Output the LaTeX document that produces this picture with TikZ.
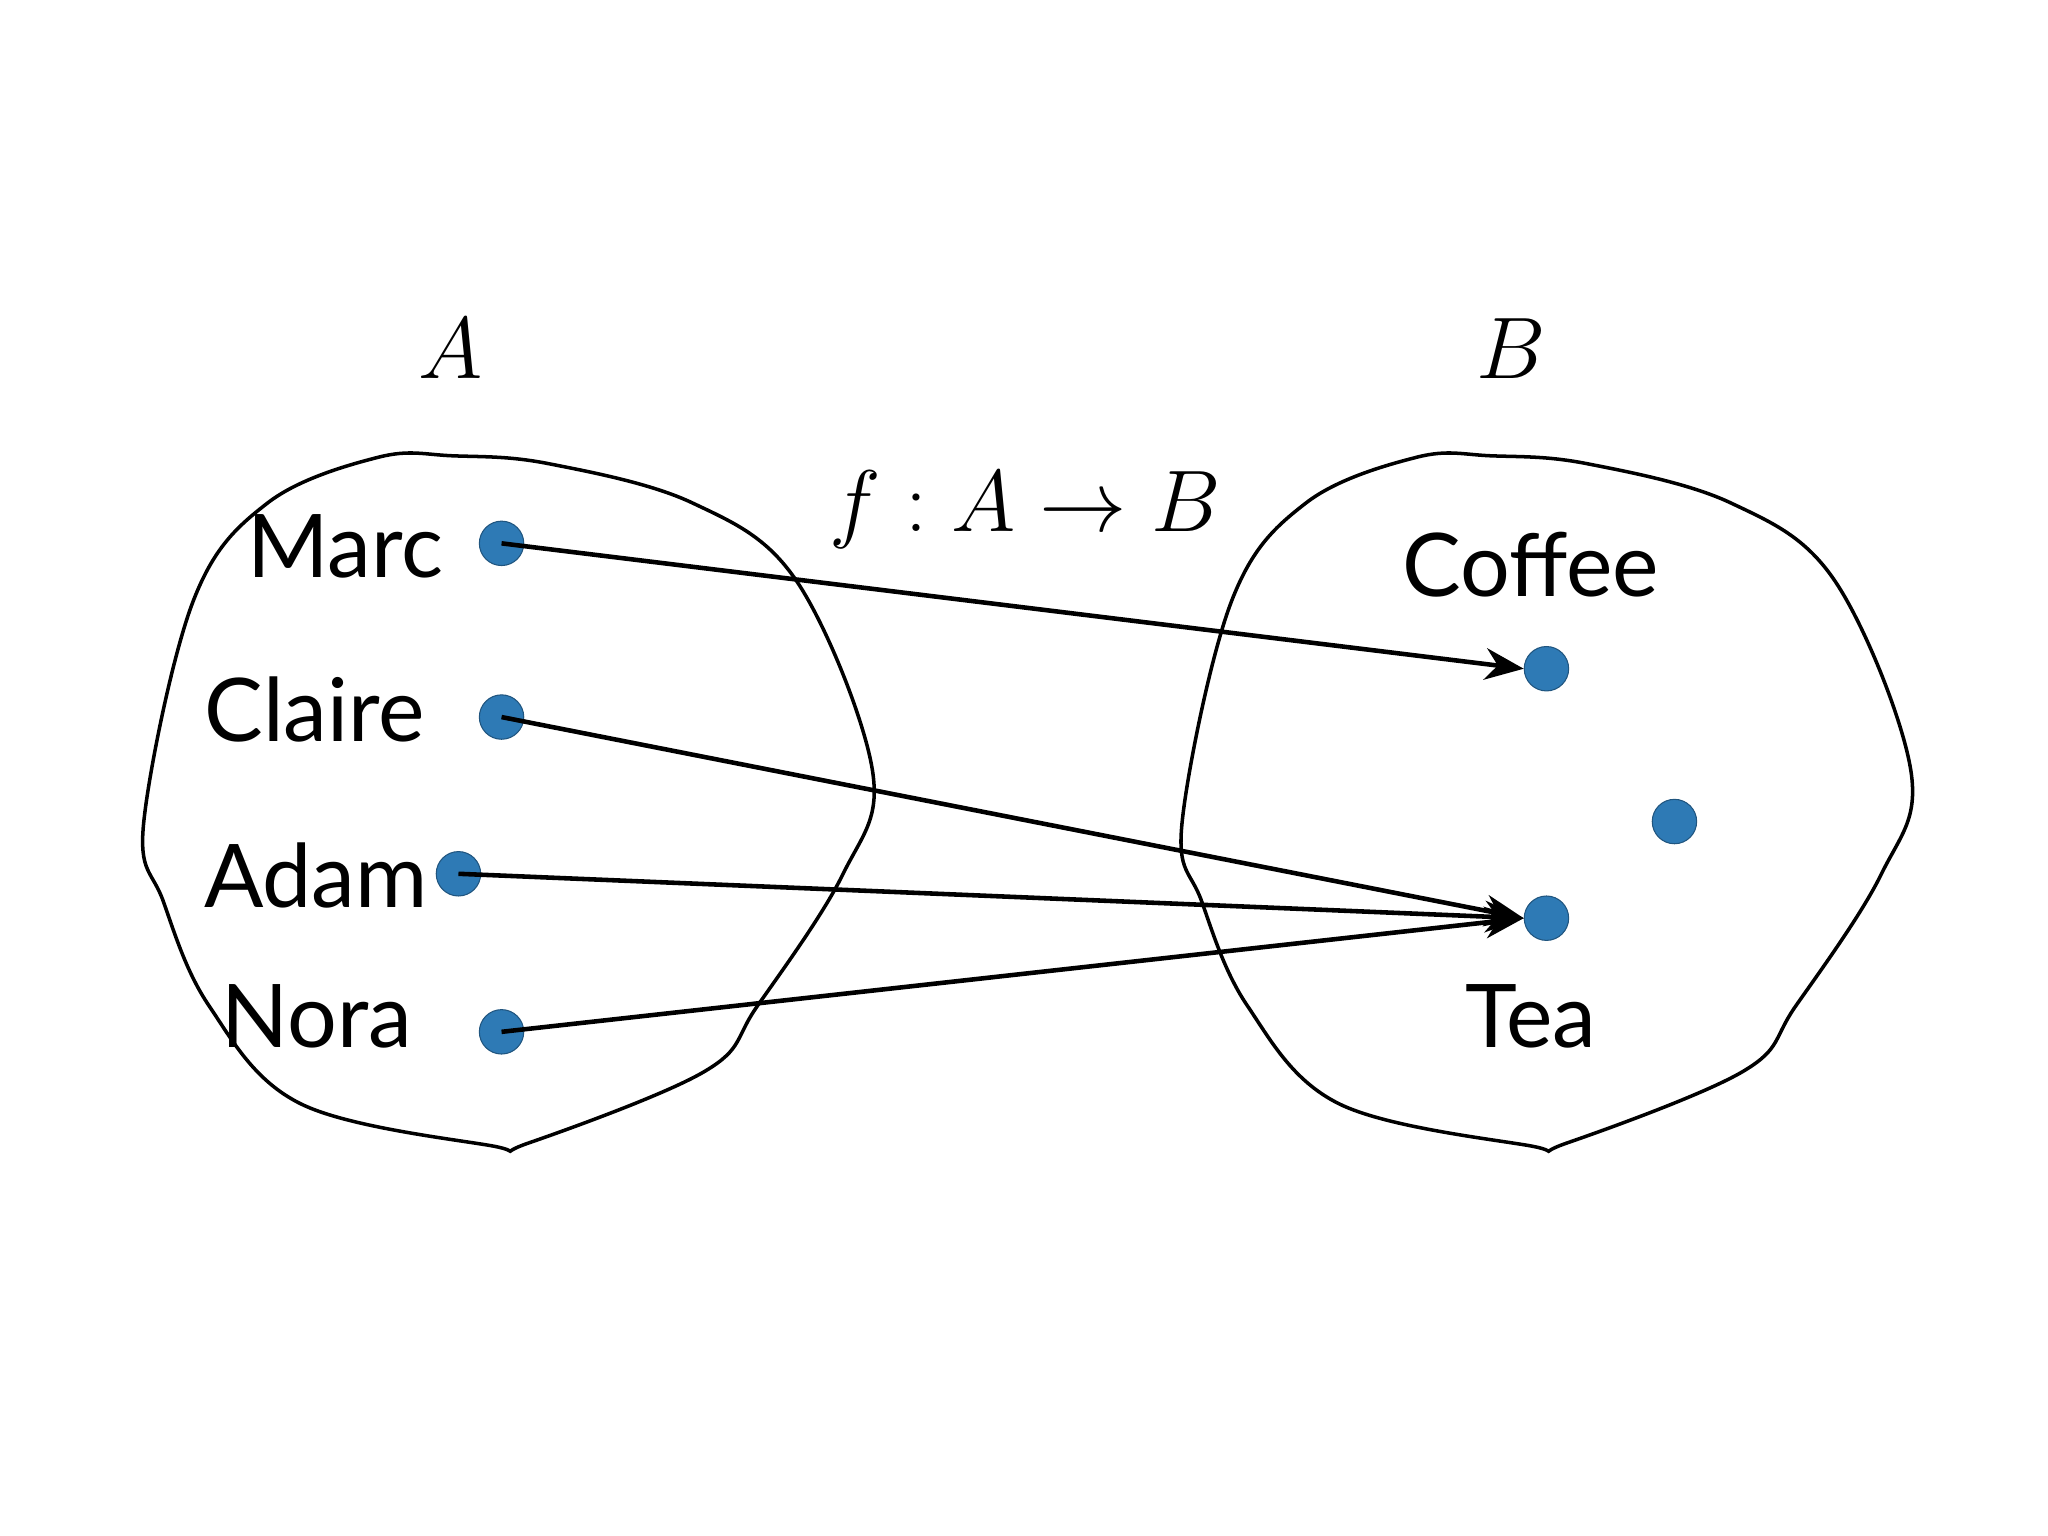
\documentclass[tikz,border=0pt]{standalone}
\usepackage{fontspec}
\setmainfont{Lato}
\usetikzlibrary{arrows.meta}
\definecolor{dotblue}{RGB}{46,122,181}
\begin{document}
\begin{tikzpicture}[x=0.013061cm,y=-0.013061cm,
  dot/.style={circle,fill=dotblue,draw=dotblue!70!black,line width=0.3pt,minimum size=34*0.013061cm,inner sep=0pt},
  lbl/.style={font=\fontsize{25}{30}\selectfont,inner sep=0pt},
  mlbl/.style={font=\fontsize{30}{34}\selectfont,inner sep=0pt},
  blob/.style={line width=1pt},
  arr/.style={line width=1.3pt,-{Stealth[length=11pt,width=9pt]}}]
\useasboundingbox (0,0) rectangle (1568,1176);
\def\blobshape{plot[smooth cycle,tension=0.6] coordinates{(290,350) (347,349) (420,355) (530,385) (610,445) (668,590) (645,670) (580,770) (540,820) (405,875) (375,877) (230,845) (160,770) (125,690) (110,630) (148,460) (205,385)}}
\draw[blob] \blobshape;
\draw[blob,xshift=795*0.013061cm] \blobshape;
\node[mlbl] (la) at (345,267) {$A$};
\node[mlbl] (lb) at (1157,267) {$B$};
\node[mlbl] (lf) at (785,390) {$f:A\to B$};
\node (marc) [dot] at (384,416) {};
\node (claire) [dot] at (384,549) {};
\node (adam) [dot] at (351,669) {};
\node (nora) [dot] at (384,790) {};
\node (coffee) [dot] at (1184,512) {};
\node (other) [dot] at (1282,629) {};
\node (tea) [dot] at (1184,703) {};
\node[lbl,anchor=east] (tmarc) at (340,418) {Marc};
\node[lbl,anchor=east] (tclaire) at (326,543) {Claire};
\node[lbl,anchor=east] (tadam) at (328,670) {Adam};
\node[lbl,anchor=east] (tnora) at (316,778) {Nora};
\node[lbl] (tcoffee) at (1172,432) {Coffee};
\node[lbl] (ttea) at (1172,778) {Tea};
\draw[arr] (marc.center) -- (coffee.west);
\draw[arr] (claire.center) -- (tea.west);
\draw[arr] (adam.center) -- (tea.west);
\draw[arr] (nora.center) -- (tea.west);
\end{tikzpicture}
\end{document}
